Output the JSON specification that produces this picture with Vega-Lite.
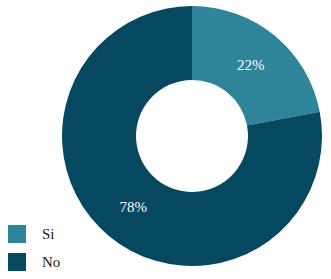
{
  "$schema": "https://vega.github.io/schema/vega-lite/v6.json",
  "autosize": "none",
  "width": 278,
  "height": 272,
  "padding": {"left": 53, "top": 0, "right": 0, "bottom": 0},
  "background": "white",
  "config": {"view": {"stroke": null}},
  "data": {"values": [
    {"cat": "Si", "value": 22, "label": "22%", "ord": 1},
    {"cat": "No", "value": 78, "label": "78%", "ord": 2}
  ]},
  "encoding": {
    "theta": {"field": "value", "type": "quantitative", "stack": true},
    "order": {"field": "ord", "type": "quantitative"}
  },
  "layer": [
    {
      "mark": {"type": "arc", "outerRadius": 130, "innerRadius": 56},
      "encoding": {
        "color": {
          "field": "cat", "type": "nominal",
          "scale": {"domain": ["Si", "No"], "range": ["#2e8499", "#05485f"]},
          "legend": {
            "title": null, "orient": "none", "legendX": -45, "legendY": 225,
            "symbolType": "square", "symbolSize": 324, "symbolStrokeWidth": 0,
            "labelFont": "Liberation Serif", "labelFontSize": 15, "labelColor": "#222222",
            "labelOffset": 16, "rowPadding": 10
          }
        }
      }
    },
    {
      "mark": {"type": "text", "radius": 92, "font": "Liberation Serif", "fontSize": 15, "color": "white"},
      "encoding": {"text": {"field": "label", "type": "nominal"}}
    }
  ]
}
